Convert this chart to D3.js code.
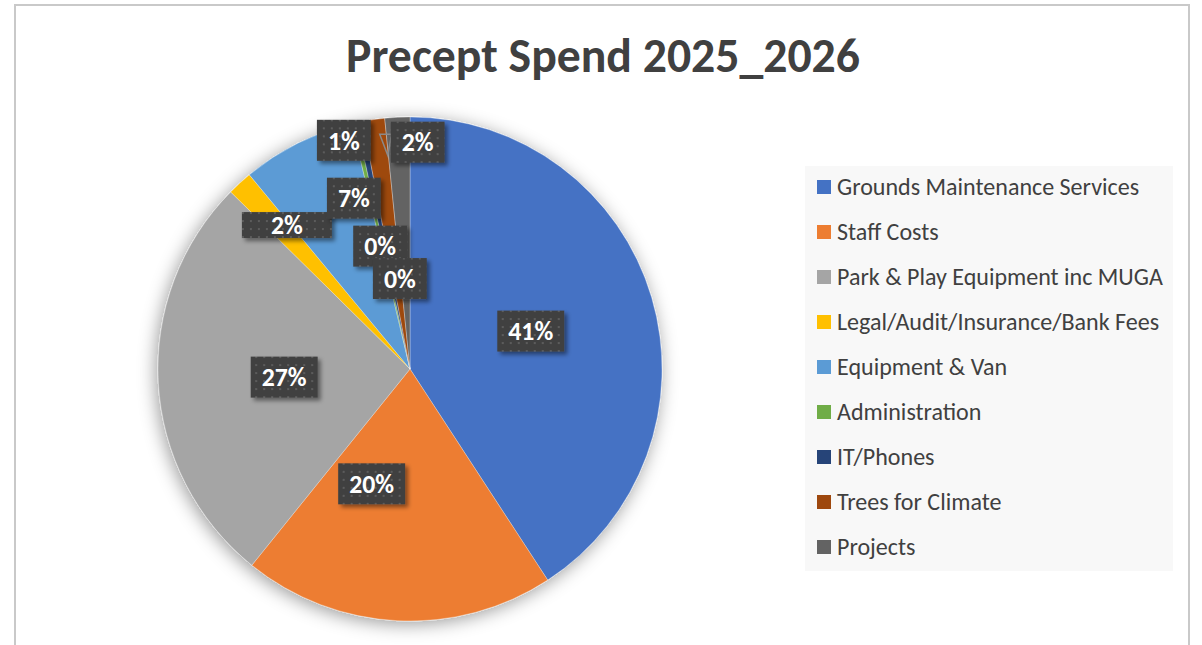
<!DOCTYPE html>
<html>
<head>
<meta charset="utf-8">
<script src="https://cdn.jsdelivr.net/npm/d3@7"></script>
<style>
  body { margin: 0; background: #fff; }
  text { font-family: Carlito, Calibri, Lato, sans-serif; }
</style>
</head>
<body>
<div id="chart"></div>
<script>
// Datos del gráfico
const title = "Precept Spend 2025_2026";
const categories = [
  "Grounds Maintenance Services",
  "Staff Costs",
  "Park & Play Equipment inc MUGA",
  "Legal/Audit/Insurance/Bank Fees",
  "Equipment & Van",
  "Administration",
  "IT/Phones",
  "Trees for Climate",
  "Projects"
];
const values = [40.8, 20.0, 26.6, 1.6, 7.3, 0.3, 0.4, 1.4, 1.6];
const colors = ["#4472C4", "#ED7D31", "#A5A5A5", "#FFC000", "#5B9BD5",
                "#70AD47", "#264478", "#9E480E", "#636363"];

// Desplazamiento de etiquetas respecto al centroide (como lo coloca Excel)
const labelNudge = [
  { dx: 0, dy: -2 }, { dx: -32, dy: -11 }, { dx: 0, dy: 1 },
  { dx: -38, dy: -51, w: 90, h: 26 }, { dx: 0, dy: -58 }, { dx: -2, dy: 0 },
  { dx: 15, dy: 33 }, { dx: -48, dy: -104 }, { dx: 14, dy: -101 }
];

const width = 1202, height = 645;
const cx = 410, cy = 369, radius = 252;

const svg = d3.select("#chart")
  .append("svg")
  .attr("width", width)
  .attr("height", height);

const defs = svg.append("defs");

// Sombra del pastel
const pieShadow = defs.append("filter").attr("id", "pieShadow")
  .attr("x", "-20%").attr("y", "-20%").attr("width", "140%").attr("height", "140%");
pieShadow.append("feDropShadow")
  .attr("dx", -2).attr("dy", 3).attr("stdDeviation", 9)
  .attr("flood-color", "#000").attr("flood-opacity", 0.4);

// Sombra de etiquetas
const boxShadow = defs.append("filter").attr("id", "boxShadow")
  .attr("x", "-30%").attr("y", "-30%").attr("width", "160%").attr("height", "160%");
boxShadow.append("feDropShadow")
  .attr("dx", 3).attr("dy", 3).attr("stdDeviation", 2)
  .attr("flood-color", "#000").attr("flood-opacity", 0.45);

// Trama de puntos de las etiquetas
const pat = defs.append("pattern").attr("id", "dots")
  .attr("patternUnits", "userSpaceOnUse").attr("width", 8).attr("height", 8);
pat.append("rect").attr("width", 8).attr("height", 8).attr("fill", "#404040");
pat.append("rect").attr("x", 3).attr("y", 3).attr("width", 2).attr("height", 2).attr("fill", "#5c5c5c");

// Borde del gráfico
svg.append("rect")
  .attr("x", 15).attr("y", 5)
  .attr("width", 1174).attr("height", 700)
  .attr("fill", "#fff")
  .attr("stroke", "#c9c9c9")
  .attr("stroke-width", 2);

// Ajustar tamaño de texto a un ancho
function fitText(sel, target) {
  sel.style("font-size", "20px");
  const w = sel.node().getComputedTextLength();
  sel.style("font-size", (20 * target / w) + "px");
}

// Título
const titleText = svg.append("text")
  .attr("x", 603).attr("y", 72)
  .attr("text-anchor", "middle")
  .attr("fill", "#404040")
  .attr("font-weight", "bold")
  .text(title);
fitText(titleText, 514);

// Pastel
const pie = d3.pie().sort(null).value(d => d);
const arcs = pie(values);
const arc = d3.arc().innerRadius(0).outerRadius(radius);
const total = d3.sum(values);

const g = svg.append("g").attr("transform", `translate(${cx},${cy})`);

g.append("g")
  .attr("filter", "url(#pieShadow)")
  .selectAll("path")
  .data(arcs)
  .enter().append("path")
  .attr("d", arc)
  .attr("fill", (d, i) => colors[i])
  .attr("stroke", "#fff")
  .attr("stroke-width", 0.3);

// Etiquetas de porcentaje
const labelArc = d3.arc().innerRadius(0).outerRadius(radius);
const labels = g.selectAll(".dot-label")
  .data(arcs)
  .enter().append("g")
  .attr("class", "dot-label")
  .attr("transform", (d, i) => {
    const c = labelArc.centroid(d);
    return `translate(${c[0] + labelNudge[i].dx},${c[1] + labelNudge[i].dy})`;
  });

labels.each(function (d, i) {
  const lg = d3.select(this);
  const rect = lg.append("rect").attr("fill", "url(#dots)").attr("filter", "url(#boxShadow)");
  const t = lg.append("text")
    .attr("text-anchor", "middle")
    .attr("dy", "0.36em")
    .attr("fill", "#fff")
    .attr("font-weight", "bold")
    .text(Math.round(d.value / total * 100) + "%");
  // tamaño similar al de Excel: "41%" ~ 45px
  t.style("font-size", "20px");
  const ref = t.node().getComputedTextLength();
  const s = 20 * (t.text().length === 3 ? 45 / ref : 1);
  t.style("font-size", s + "px");
});

// tamaño de letra común para todas las etiquetas
const fs = labels.filter((d, i) => i === 0).select("text").style("font-size");
labels.select("text").style("font-size", fs);
labels.each(function (d, i) {
  const lg = d3.select(this);
  const tw = lg.select("text").node().getComputedTextLength();
  const w = labelNudge[i].w || tw + 22;
  const h = labelNudge[i].h || 41;
  lg.select("rect")
    .attr("x", -w / 2).attr("y", -h / 2)
    .attr("width", w).attr("height", h);
});

// Indicador de la llamada de "Projects"
const projLabel = labels.filter((d, i) => i === 8);
projLabel.insert("path", "rect")
  .attr("d", () => {
    const w = d3.select(projLabel.node()).select("rect").attr("width");
    const x0 = -w / 2;
    return `M${x0 - 11},-8 L${x0 + 1},-8 L${x0 - 3},13 Z`;
  })
  .attr("fill", "none")
  .attr("stroke", "#8a8a8a")
  .attr("stroke-width", 1.5);

// Leyenda
const legend = svg.append("g").attr("transform", "translate(805,166)");
legend.append("rect")
  .attr("width", 368).attr("height", 405)
  .attr("fill", "#f8f8f8");

const rowY = d3.scalePoint().domain(categories).range([21, 381]);

const items = legend.selectAll(".legend-item")
  .data(categories)
  .enter().append("g")
  .attr("class", "legend-item")
  .attr("transform", d => `translate(0,${rowY(d)})`);

items.append("rect")
  .attr("x", 12).attr("y", -7)
  .attr("width", 14).attr("height", 14)
  .attr("fill", (d, i) => colors[i]);

const legendText = items.append("text")
  .attr("x", 32)
  .attr("dy", "0.35em")
  .attr("fill", "#404040")
  .text(d => d);

// ajustar al ancho de la entrada más larga
legendText.style("font-size", "20px");
const maxW = d3.max(legendText.nodes(), n => n.getComputedTextLength());
legendText.style("font-size", (20 * 326 / maxW) + "px");
</script>
</body>
</html>
